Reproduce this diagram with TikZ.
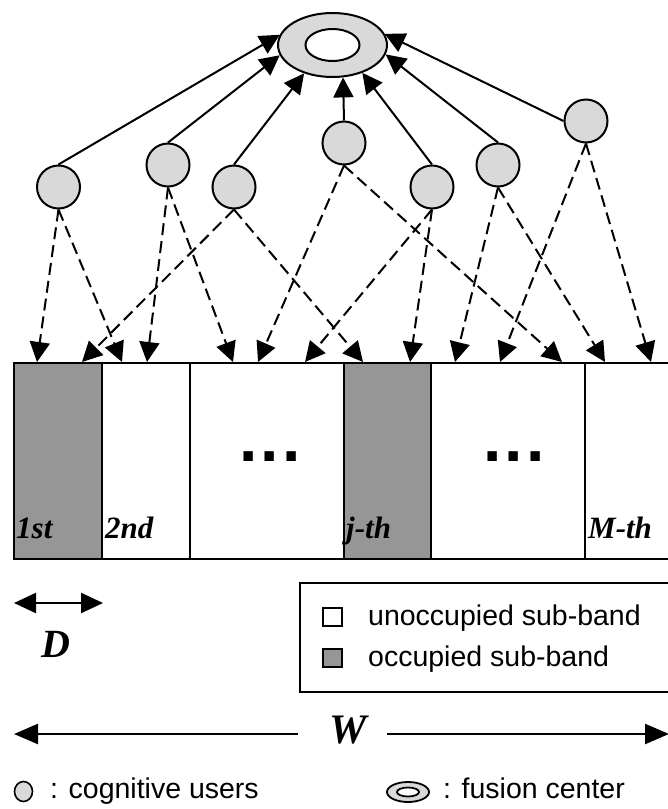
\documentclass[tikz,border=0pt]{standalone}
\usepackage{fontspec}
\setmainfont{Liberation Sans}
\newfontfamily\lserif{Liberation Serif}
\usetikzlibrary{arrows.meta,shapes.geometric}
\definecolor{userfill}{RGB}{217,217,217}
\definecolor{bandgrey}{RGB}{150,150,150}
\newcommand\bandlabfont{\fontsize{31}{31}\selectfont\lserif\bfseries\itshape}
\newcommand\symfont{\fontsize{40}{40}\selectfont\lserif\bfseries\itshape}
\newcommand\legfont{\fontsize{28.5}{28.5}\selectfont}
\begin{document}
\begin{tikzpicture}[x=1pt,y=-1pt,
  user/.style={circle,draw,line width=2pt,fill=userfill,minimum size=43pt,inner sep=0pt},
  fusion/.style={ellipse,draw,line width=2pt,fill=userfill,minimum width=109pt,minimum height=64pt,inner sep=0pt},
  hole/.style={ellipse,draw,line width=2pt,fill=white,minimum width=54pt,minimum height=32pt,inner sep=0pt},
  report/.style={-{Triangle[length=20pt,width=20pt]},line width=2pt},
  sense/.style={-{Triangle[length=20pt,width=20pt]},line width=2pt,dash pattern=on 12pt off 6pt},
  dim/.style={{Triangle[length=22pt,width=20pt]}-{Triangle[length=22pt,width=20pt]},line width=2.4pt},
  bandline/.style={line width=2.4pt},
  bandlab/.style={anchor=base west,inner sep=0pt,font=\bandlabfont},
  legtext/.style={anchor=base west,inner sep=0pt,font=\legfont},
  swatch/.style={draw,line width=1.8pt,minimum width=19pt,minimum height=18pt,inner sep=0pt},
  dots/.style={anchor=base,inner sep=0pt,font=\fontsize{66}{66}\selectfont\bfseries}]
\useasboundingbox (0,0) rectangle (668,809);
\clip (0,0) rectangle (668,809);

% frequency band split into sub-bands
\fill[bandgrey] (14,363) rectangle (102,559);
\fill[bandgrey] (344,363) rectangle (431,559);
\foreach \x in {14,102,190,344,431,585}
  \draw[line width=2pt] (\x,363) -- (\x,559);
\draw[bandline] (13,363) -- (672,363);
\draw[bandline] (13,559) -- (672,559);

\node[bandlab] (b1) at (16,538) {1st};
\node[bandlab] (b2) at (105,538) {2nd};
\node[bandlab] (bj) at (346,538) {j-th};
\node[bandlab] (bm) at (588,538) {M-th};
\node[dots] (d1) at (270,461) {.\hspace{3pt}.\hspace{3pt}.};
\node[dots] (d2) at (514,461) {.\hspace{3pt}.\hspace{3pt}.};

% fusion center
\node[fusion] (fc) at (332.5,45) {};
\node[hole] (fchole) at (332.5,45) {};

% cognitive users
\node[user] (u1) at (58.5,187) {};
\node[user] (u2) at (168,165) {};
\node[user] (u3) at (234,187) {};
\node[user] (u4) at (344,143) {};
\node[user] (u5) at (432,187) {};
\node[user] (u6) at (498,165) {};
\node[user] (u7) at (586,121) {};

% reports to the fusion center
\draw[report] (u1.north) -- (fc.169);
\draw[report] (u2.north) -- (fc.191);
\draw[report] (u3.north) -- (fc.225);
\draw[report] (u4.north) -- (fc.288);
\draw[report] (u5.north) -- (fc.317);
\draw[report] (u6.north) -- (fc.350);
\draw[report] (u7.west) -- (fc.12);

% sensed sub-band positions on the band edge
\foreach \n/\x in {s1a/37,s1b/122,s2a/147,s2b/233,s3a/82,s3b/363,s4a/258,s4b/562,
                   s5a/305,s5b/410,s6a/455,s6b/605,s7a/500,s7b/651}
  \coordinate (\n) at (\x,362);

\draw[sense] (u1.south) -- (s1a);
\draw[sense] (u1.south) -- (s1b);
\draw[sense] (u2.south) -- (s2a);
\draw[sense] (u2.south) -- (s2b);
\draw[sense] (u3.south) -- (s3a);
\draw[sense] (u3.south) -- (s3b);
\draw[sense] (u4.south) -- (s4a);
\draw[sense] (u4.south) -- (s4b);
\draw[sense] (u5.south) -- (s5a);
\draw[sense] (u5.south) -- (s5b);
\draw[sense] (u6.south) -- (s6a);
\draw[sense] (u6.south) -- (s6b);
\draw[sense] (u7.south) -- (s7a);
\draw[sense] (u7.south) -- (s7b);

% sub-band width D
\coordinate (dl) at (14,603);
\coordinate (dr) at (103,603);
\draw[dim] (dl) -- (dr);
\node[anchor=base,inner sep=0pt,font=\symfont] (dlab) at (56,657) {D};

% legend box
\draw[line width=2pt] (672,583) -- (300,583) -- (300,692) -- (672,692);
\node[swatch,fill=white] (sw1) at (332.5,617) {};
\node[swatch,fill=bandgrey] (sw2) at (332.5,658) {};
\node[legtext] (lt1) at (368,625) {unoccupied sub-band};
\node[legtext] (lt2) at (368,666) {occupied sub-band};

% total bandwidth W
\node[anchor=base,inner sep=0pt,font=\fontsize{42}{42}\selectfont\lserif\bfseries\itshape] (wlab) at (348,743) {W};
\coordinate (wl) at (14,734);
\coordinate (wr) at (669,734);
\draw[line width=2.4pt,{Triangle[length=24pt,width=20pt]}-] (wl) -- (298,734);
\draw[line width=2.4pt,-{Triangle[length=24pt,width=20pt]}] (387,734) -- (wr);

% symbol key
\node[ellipse,draw,line width=1.6pt,fill=userfill,minimum width=18pt,minimum height=20pt,inner sep=0pt] (keyuser) at (23.5,791.5) {};
\node[legtext] (kt1) at (50,798) {: cognitive users};
\node[ellipse,draw,line width=1.8pt,fill=userfill,minimum width=42pt,minimum height=20pt,inner sep=0pt] (keyfc) at (408,792) {};
\node[ellipse,draw,line width=1.8pt,fill=white,minimum width=22pt,minimum height=9pt,inner sep=0pt] (keyfchole) at (408,792) {};
\node[legtext] (kt2) at (443,798) {: fusion center};
\end{tikzpicture}
\end{document}
